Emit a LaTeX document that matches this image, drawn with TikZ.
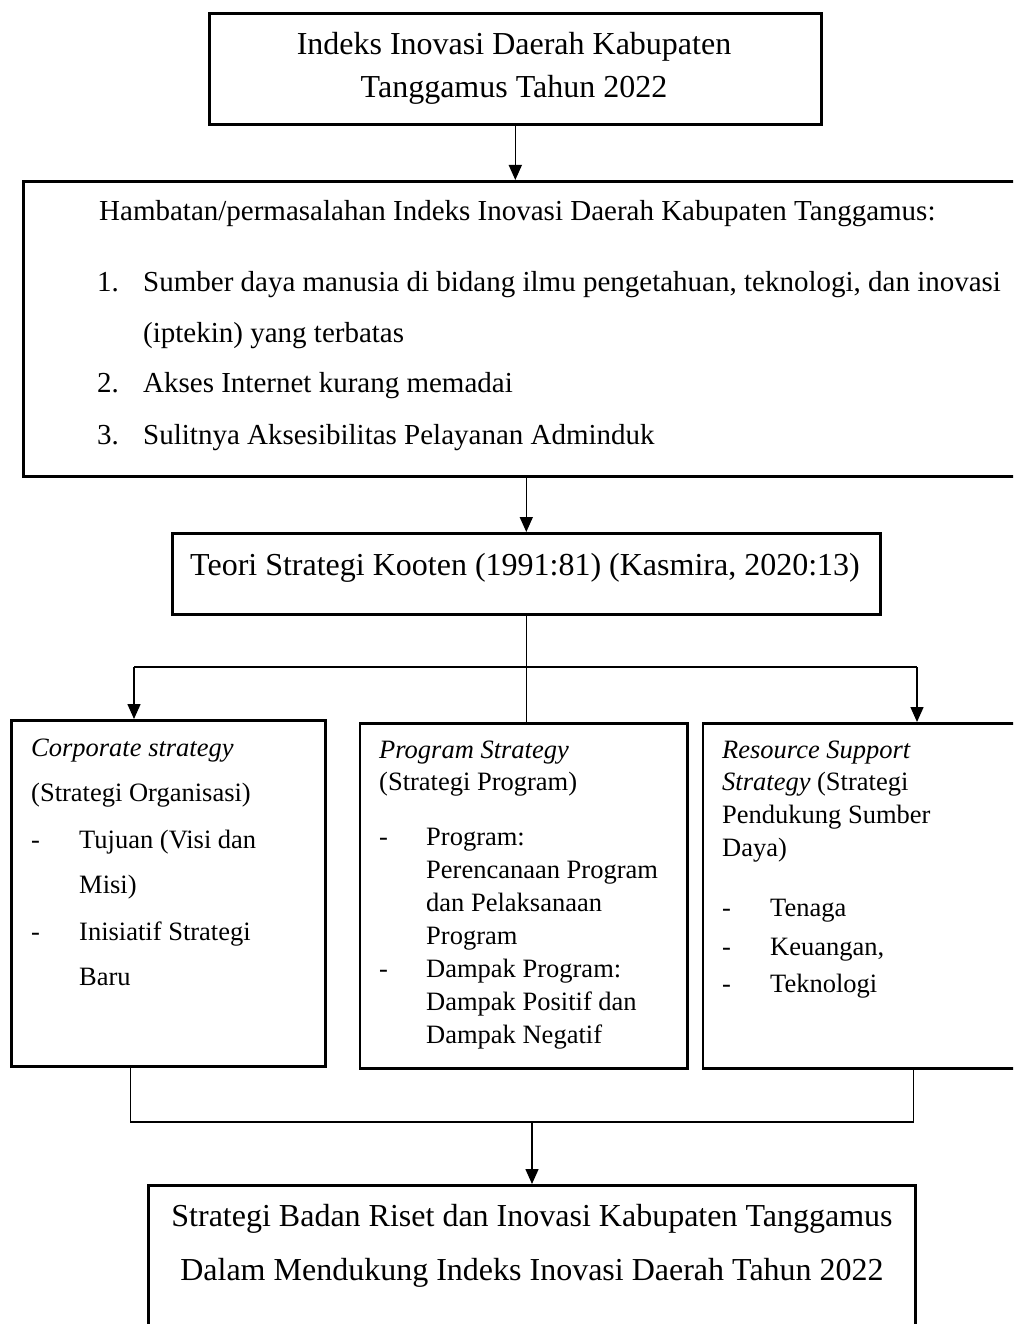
\documentclass[tikz,border=0pt]{standalone}
\usepackage{fontspec}
\setmainfont{Liberation Serif}
\usetikzlibrary{arrows.meta}
\tikzset{
	box/.style={draw, line width=2.6pt, anchor=north west, inner sep=0pt},
	link/.style={line width=1.5pt},
	arr/.style={link, -{Triangle[length=15pt,width=13pt]}},
	big/.style={inner sep=0pt, anchor=base, font=\fontsize{32}{38}\selectfont},
	mid/.style={inner sep=0pt, anchor=base west, font=\fontsize{29}{34}\selectfont},
	txt/.style={inner sep=0pt, anchor=base west, font=\fontsize{26.5}{32}\selectfont}
}

\begin{document}
\begin{tikzpicture}[x=1pt, y=-1pt]
			%%%%% START %%%%%
			\useasboundingbox (0,0) rectangle (1013,1324);
			\clip (0,0) rectangle (1013,1324);
			
			\node[box, minimum width=612, minimum height=111] (indeks) at (208,12) {};
			\node[big] (indeks1) at (514,55) {Indeks Inovasi Daerah Kabupaten};
			\node[big] (indeks2) at (514,98) {Tanggamus Tahun 2022};
			
			\node[box, minimum width=1008, minimum height=295] (hambatan) at (22,180) {};
			\node[mid] (hb0) at (99,221) {Hambatan/permasalahan Indeks Inovasi Daerah Kabupaten Tanggamus:};
			\node[mid] (hn1) at (97,291) {1.};
			\node[mid] (hb1) at (143,291) {Sumber daya manusia di bidang ilmu pengetahuan, teknologi, dan inovasi};
			\node[mid] (hb1b) at (143,342) {(iptekin) yang terbatas};
			\node[mid] (hn2) at (97,392) {2.};
			\node[mid] (hb2) at (143,392) {Akses Internet kurang memadai};
			\node[mid] (hn3) at (97,444) {3.};
			\node[mid] (hb3) at (143,444) {Sulitnya Aksesibilitas Pelayanan Adminduk};
			
			\node[box, minimum width=708, minimum height=81] (teori) at (171,532) {};
			\node[big] (teori1) at (525,575) {Teori Strategi Kooten (1991:81) (Kasmira, 2020:13)};
			
			% three strategies
			\node[box, minimum width=314, minimum height=346] (corp) at (10,719) {};
			\node[txt] (c1) at (31,756) {\textit{Corporate strategy}};
			\node[txt] (c2) at (31,801) {(Strategi Organisasi)};
			\node[txt] (cd1) at (31,848) {-};
			\node[txt] (c3) at (79,848) {Tujuan (Visi dan};
			\node[txt] (c4) at (79,893) {Misi)};
			\node[txt] (cd2) at (31,940) {-};
			\node[txt] (c5) at (79,940) {Inisiatif Strategi};
			\node[txt] (c6) at (79,985) {Baru};
			
			\node[box, minimum width=327.5, minimum height=345] (prog) at (358.5,722) {};
			\node[txt] (p1) at (379,758) {\textit{Program Strategy}};
			\node[txt] (p2) at (379,790) {(Strategi Program)};
			\node[txt] (pd1) at (379,845) {-};
			\node[txt] (p3) at (426,845) {Program:};
			\node[txt] (p4) at (426,878) {Perencanaan Program};
			\node[txt] (p5) at (426,911) {dan Pelaksanaan};
			\node[txt] (p6) at (426,944) {Program};
			\node[txt] (pd2) at (379,977) {-};
			\node[txt] (p7) at (426,977) {Dampak Program:};
			\node[txt] (p8) at (426,1010) {Dampak Positif dan};
			\node[txt] (p9) at (426,1043) {Dampak Negatif};
			
			\node[box, minimum width=328.5, minimum height=345] (res) at (701.5,722) {};
			\node[txt] (r1) at (722,758) {\textit{Resource Support}};
			\node[txt] (r2) at (722,790) {\textit{Strategy} (Strategi};
			\node[txt] (r3) at (722,823) {Pendukung Sumber};
			\node[txt] (r4) at (722,856) {Daya)};
			\node[txt] (rd1) at (722,916) {-};
			\node[txt] (r5) at (770,916) {Tenaga};
			\node[txt] (rd2) at (722,955) {-};
			\node[txt] (r6) at (770,955) {Keuangan,};
			\node[txt] (rd3) at (722,992) {-};
			\node[txt] (r7) at (770,992) {Teknologi};
			
			\node[box, minimum width=767, minimum height=160] (hasil) at (147,1184) {};
			\node[big] (hasil1) at (532,1226) {Strategi Badan Riset dan Inovasi Kabupaten Tanggamus};
			\node[big] (hasil2) at (532,1280) {Dalam Mendukung Indeks Inovasi Daerah Tahun 2022};
			
			% connectors
			\draw[arr] (indeks.south) -- (indeks.south |- hambatan.north);
			\draw[arr] (teori.north |- hambatan.south) -- (teori.north);
			
			\coordinate (jl) at (134,667);
			\coordinate (jr) at (917,667);
			\draw[link] (teori.south) -- (teori.south |- prog.north);
			\draw[link] (jl) -- (jr);
			\draw[arr] (jl) -- (jl |- corp.north);
			\draw[arr] (jr) -- (jr |- res.north);
			
			\coordinate (kl) at (130.5,1122);
			\coordinate (kr) at (913.5,1122);
			\coordinate (km) at (532,1122);
			\draw[link] (kl |- corp.south) -- (kl) -- (kr) -- (kr |- res.south);
			\draw[arr] (km) -- (km |- hasil.north);
			
			%%%%% END %%%%%
\end{tikzpicture}
\end{document}
